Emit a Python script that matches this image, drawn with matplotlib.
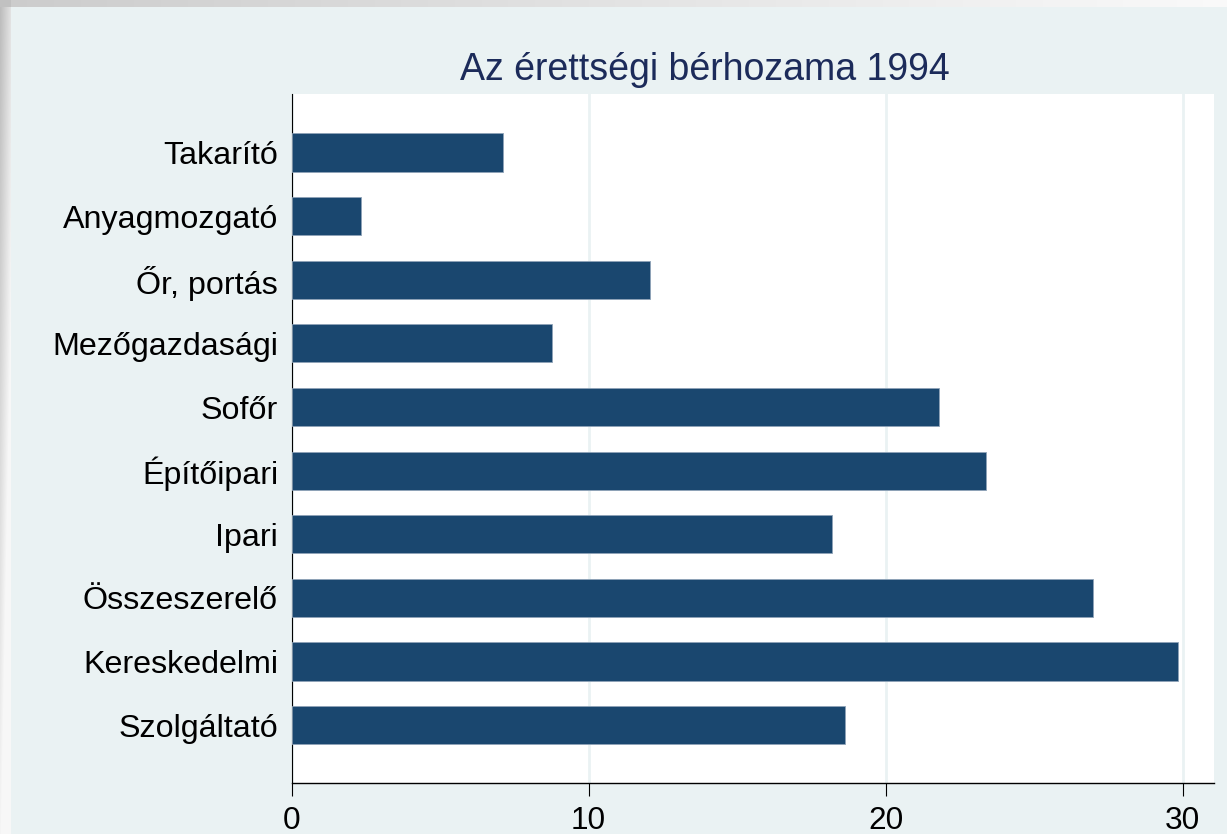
import numpy as np
import matplotlib
matplotlib.use("Agg")
import matplotlib.pyplot as plt

categories = ["Takarító", "Anyagmozgató", "Őr, portás", "Mezőgazdasági", "Sofőr",
              "Építőipari", "Ipari", "Összeszerelő", "Kereskedelmi", "Szolgáltató"]
values = [7.13, 2.33, 12.07, 8.78, 21.78, 23.37, 18.20, 26.98, 29.83, 18.63]
xticks = [0, 10, 20, 30]
title = "Az érettségi bérhozama 1994"

W, H = 1227, 834
BG = np.array([0xEA, 0xF2, 0xF3]) / 255.0

fig = plt.figure(figsize=(W / 100, H / 100), dpi=100)
fig.patch.set_facecolor(BG)

# decorative frame (slide border gradient)
bg = np.ones((H, W, 3)) * BG
xs = np.arange(11)
ys = np.arange(H)
left = 0.74 + 0.14 * (xs[None, :] / 10.0) + 0.22 * (ys[:, None] / H)
left = np.clip(left, 0, 0.97)
bg[:, :11, :] = left[:, :, None]
tx = np.arange(W)
top = 0.80 + 0.18 * (tx / W)
top = np.clip(top, 0, 0.98)
bg[:7, :, :] = np.repeat(top[None, :, None], 7, axis=0)
bg[:7, :11, :] = 0.76
bax = fig.add_axes([0, 0, 1, 1], zorder=-10)
bax.imshow(bg, aspect="auto", interpolation="nearest")
bax.axis("off")

ax = fig.add_axes([291.5 / W, 1 - 783 / H, (1214 - 291.5) / W, (783 - 94) / H])
ax.set_facecolor("white")
y = np.arange(len(categories))
ax.barh(y, values, height=0.6, color="#1A476F", edgecolor="#8fa3b8", linewidth=0.6, zorder=3)
ax.set_ylim(9 + 0.91, -0.92)
ax.set_xlim(0, 31.05)
ax.set_yticks(y)
ax.set_yticklabels(categories, fontsize=23.2, family=["Liberation Sans", "DejaVu Sans"])
ax.set_xticks(xticks)
ax.set_xticklabels([str(t) for t in xticks], fontsize=22.7,
                   family=["Liberation Sans Narrow", "Liberation Sans", "DejaVu Sans"])
ax.tick_params(axis="y", length=0, pad=9.7)
ax.tick_params(axis="x", length=9.4, width=0.8, pad=7.0, color="black")
ax.xaxis.grid(True, color="#EAF2F3", linewidth=2.0, zorder=0)
ax.set_axisbelow(True)
for s in ["top", "right"]:
    ax.spines[s].set_visible(False)
ax.spines["left"].set_linewidth(0.8)
ax.spines["bottom"].set_linewidth(1.0)

fig.text(704.7 / W, 1 - 80 / H, title, ha="center", va="baseline", fontsize=27.0,
         color="#1c2b5a", family=["Liberation Sans", "DejaVu Sans"])

fig.savefig("out.png", dpi=100, facecolor=fig.get_facecolor())
